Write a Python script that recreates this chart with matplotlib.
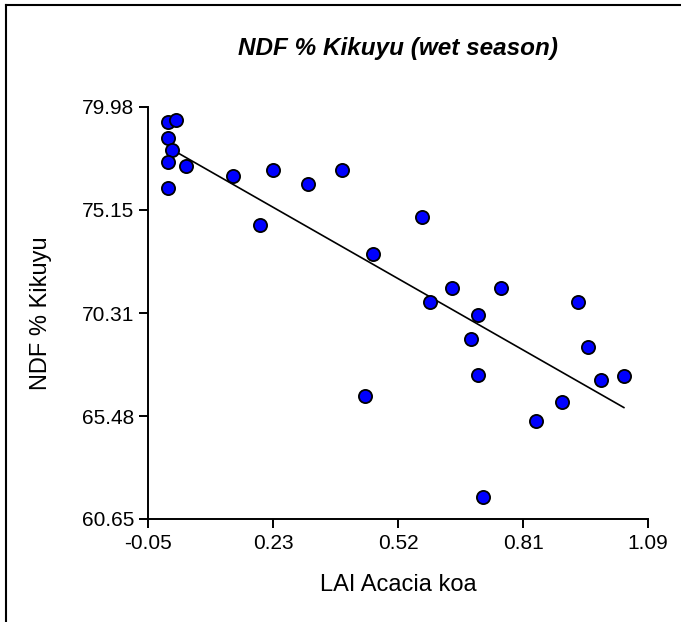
import matplotlib
matplotlib.use("Agg")
import matplotlib.pyplot as plt
from matplotlib.lines import Line2D
import numpy as np

plt.rcParams["font.family"] = ["Liberation Sans", "DejaVu Sans"]

# LAI of Acacia koa vs NDF % of Kikuyu grass (wet season)
lai = [-0.004, 0.014, -0.004, 0.005, -0.004, 0.037, -0.004, 0.144, 0.235, 0.205,
       0.315, 0.392, 0.463, 0.575, 0.593, 0.643, 0.702, 0.686, 0.445, 0.702,
       0.755, 0.930, 0.953, 0.983, 1.035, 0.894, 0.835, 0.714]
ndf = [79.28, 79.37, 78.53, 77.96, 77.40, 77.21, 76.18, 76.74, 77.03, 74.44,
       76.37, 77.03, 73.08, 74.82, 70.83, 71.49, 70.22, 69.10, 66.42, 67.41,
       71.49, 70.83, 68.72, 67.17, 67.36, 66.14, 65.25, 61.68]

x_ticks = [-0.05, 0.235, 0.52, 0.805, 1.09]
x_tick_labels = ["-0.05", "0.23", "0.52", "0.81", "1.09"]
y_ticks = [60.65, 65.48, 70.31, 75.15, 79.98]
y_tick_labels = ["60.65", "65.48", "70.31", "75.15", "79.98"]

W, H = 681, 622
fig = plt.figure(figsize=(W / 100, H / 100), dpi=100)
ax = fig.add_axes([148 / W, 1 - 519 / H, 500 / W, 412 / H])

x = np.array(lai)
y = np.array(ndf)

# linear fit over the data range
slope, intercept = np.polyfit(x, y, 1)
xfit = np.array([x.min(), x.max()])
ax.plot(xfit, slope * xfit + intercept, color="black", lw=1.2, zorder=2)

ax.scatter(x, y, s=90, c="#0000ff", edgecolors="black", linewidths=1.3, zorder=3, clip_on=False)

ax.set_xlim(x_ticks[0], x_ticks[-1])
ax.set_ylim(y_ticks[0], y_ticks[-1])
ax.set_xticks(x_ticks)
ax.set_xticklabels(x_tick_labels)
ax.set_yticks(y_ticks)
ax.set_yticklabels(y_tick_labels)

for side in ["top", "right"]:
    ax.spines[side].set_visible(False)
for side in ["left", "bottom"]:
    ax.spines[side].set_linewidth(1.4)
ax.tick_params(direction="out", length=6.5, width=1.4, labelsize=15)
ax.tick_params(axis="x", pad=4.5)
ax.tick_params(axis="y", pad=3.5)

ax.set_xlabel("LAI Acacia koa", fontsize=17, va="center")
ax.xaxis.set_label_coords(0.5, (519 - 585) / 412)
ax.set_ylabel("NDF % Kikuyu", fontsize=17, va="center")
ax.yaxis.set_label_coords((41 - 148) / 500, 0.5)
fig.text(398 / W, 1 - 49 / H, "NDF % Kikuyu (wet season)", fontsize=17.5,
         fontweight="bold", fontstyle="italic", ha="center", va="center")

# frame at top and left edges of the image
fig.add_artist(Line2D([6 / W, 6 / W], [0, 1 - 5 / H], color="black", lw=1.5,
                      transform=fig.transFigure))
fig.add_artist(Line2D([6 / W, 1], [1 - 5 / H, 1 - 5 / H], color="black", lw=1.5,
                      transform=fig.transFigure))

fig.savefig("out.png", dpi=100)
